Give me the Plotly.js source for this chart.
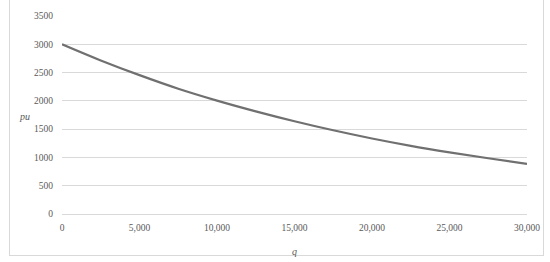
<!DOCTYPE html>
<html>
<head>
<meta charset="utf-8">
<script src="https://cdn.plot.ly/plotly-3.0.1.min.js"></script>
<style>
html,body{margin:0;padding:0;background:#fff;}
#frame{position:absolute;left:9px;top:-1px;width:535px;height:257px;border:1px solid #d9d9d9;box-sizing:border-box;}
#chart{position:absolute;left:0;top:0;width:550px;height:262px;}
</style>
</head>
<body>
<div id="frame"></div>
<div id="chart"></div>
<script>
var q = [0, 2500, 5000, 7500, 10000, 12500, 15000, 17500, 20000, 22500, 25000, 27500, 30000];
var pu = [3000, 2715, 2455, 2215, 2005, 1815, 1640, 1480, 1335, 1205, 1090, 985, 885];
var xTicks = [0, 5000, 10000, 15000, 20000, 25000, 30000];
var xTickText = ['0', '5,000', '10,000', '15,000', '20,000', '25,000', '30,000'];
var yTicks = [0, 500, 1000, 1500, 2000, 2500, 3000, 3500];
var xLabel = 'q';
var yLabel = 'pu';

var font = {family: '"Liberation Serif", "DejaVu Serif", serif', size: 9.5, color: '#595959'};

Plotly.newPlot('chart', [{
  x: q, y: pu, type: 'scatter', mode: 'lines',
  line: {color: '#707070', width: 2.2, shape: 'spline'},
  hoverinfo: 'none'
}], {
  width: 550, height: 262,
  margin: {l: 62, r: 23, t: 16, b: 48},
  paper_bgcolor: 'rgba(0,0,0,0)', plot_bgcolor: 'rgba(0,0,0,0)',
  showlegend: false,
  font: font,
  xaxis: {
    range: [0, 30000], tickvals: xTicks, ticktext: xTickText,
    showgrid: false, zeroline: false, showline: false, ticks: '',
    ticklabelstandoff: 6, tickfont: font, fixedrange: true
  },
  yaxis: {
    range: [0, 3500], tickvals: yTicks,
    showgrid: true, gridcolor: '#d9d9d9', gridwidth: 1,
    zeroline: true, zerolinecolor: '#d9d9d9', zerolinewidth: 1,
    showline: false, ticks: '', ticklabelstandoff: 8, tickfont: font, fixedrange: true
  },
  annotations: [
    {text: yLabel, xref: 'paper', yref: 'paper', x: -0.08, y: 0.49, xanchor: 'center', yanchor: 'middle',
     showarrow: false, font: {family: font.family, size: 10, color: '#595959', style: 'italic'}},
    {text: xLabel, xref: 'paper', yref: 'paper', x: 0.5, y: -0.19, xanchor: 'center', yanchor: 'middle',
     showarrow: false, font: {family: font.family, size: 10, color: '#595959', style: 'italic'}}
  ]
}, {staticPlot: true});
</script>
</body>
</html>
